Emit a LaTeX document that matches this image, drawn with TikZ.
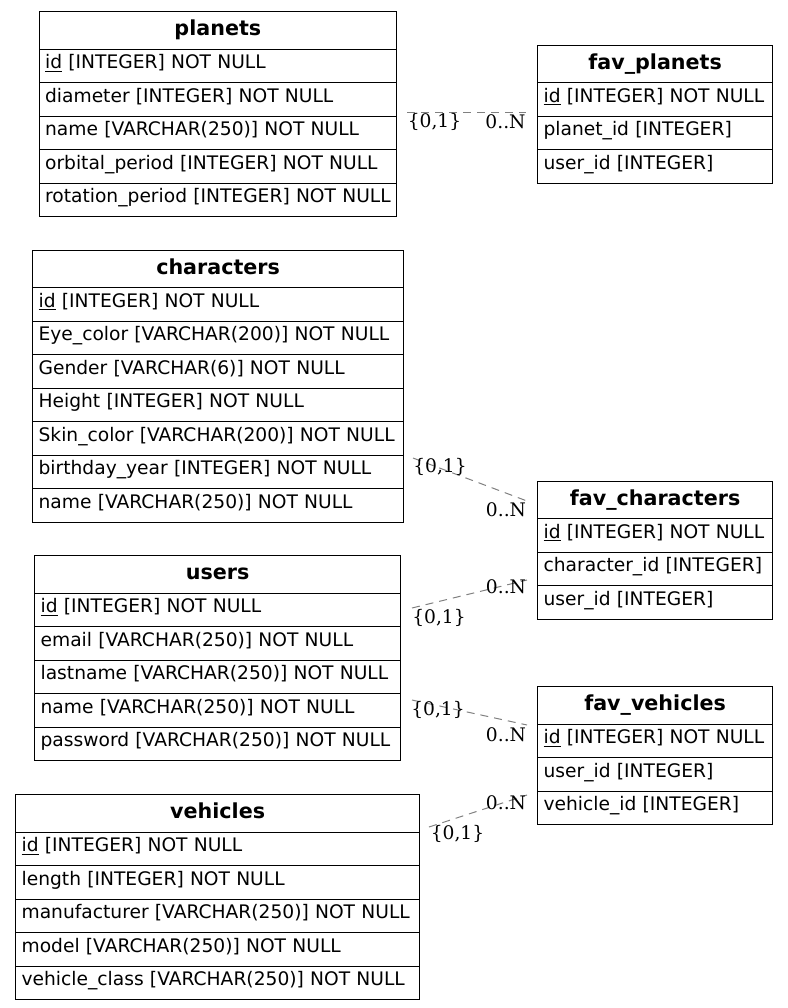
\documentclass[tikz,border=0pt]{standalone}
\usepackage{fontspec}
\setmainfont{DejaVu Sans}
\newfontfamily\lblfont{DejaVu Serif}
\definecolor{relgray}{HTML}{808080}
\begin{document}
\begin{tikzpicture}[x=0.75pt,y=-0.75pt,
  every node/.style={font=\fontsize{14pt}{16pt}\selectfont},
  hd/.style={draw, line width=0.9pt, anchor=north west, minimum width={#1*0.75pt}, minimum height=28.125pt, inner sep=0pt, text height=11pt, text depth=3.1pt, font=\fontsize{15.5pt}{18pt}\selectfont\bfseries},
  rw/.style={draw, line width=0.9pt, anchor=north west, text width={(#1-12)*0.75pt}, inner xsep=4.5pt, inner ysep=0pt, minimum height=25.125pt, align=left, text height=8pt, text depth=3.3pt},
  rel/.style={draw=relgray, line width=0.75pt, dash pattern=on 6pt off 4.5pt},
  card/.style={inner sep=0pt, font=\fontsize{14pt}{16pt}\selectfont\lblfont}]
\useasboundingbox (0,0) rectangle (788,1008);

% planets
\node[hd=357.5] (pl-h) at (38.5,11) {planets};
\node[rw=357.5] (pl-1) at (38.5,48.5) {\mbox{\underline{id} [INTEGER] NOT NULL}};
\node[rw=357.5] (pl-2) at (38.5,82) {\mbox{diameter [INTEGER] NOT NULL}};
\node[rw=357.5] (pl-3) at (38.5,115.5) {\mbox{name [VARCHAR(250)] NOT NULL}};
\node[rw=357.5] (pl-4) at (38.5,149) {\mbox{orbital\_period [INTEGER] NOT NULL}};
\node[rw=357.5] (pl-5) at (38.5,182.5) {\mbox{rotation\_period [INTEGER] NOT NULL}};

% fav_planets
\node[hd=235] (fp-h) at (537,44.5) {fav\_planets};
\node[rw=235] (fp-1) at (537,82) {\mbox{\underline{id} [INTEGER] NOT NULL}};
\node[rw=235] (fp-2) at (537,115.5) {\mbox{planet\_id [INTEGER]}};
\node[rw=235] (fp-3) at (537,149) {\mbox{user\_id [INTEGER]}};

% characters
\node[hd=371] (ch-h) at (32,249.5) {characters};
\node[rw=371] (ch-1) at (32,287) {\mbox{\underline{id} [INTEGER] NOT NULL}};
\node[rw=371] (ch-2) at (32,320.5) {\mbox{Eye\_color [VARCHAR(200)] NOT NULL}};
\node[rw=371] (ch-3) at (32,354) {\mbox{Gender [VARCHAR(6)] NOT NULL}};
\node[rw=371] (ch-4) at (32,387.5) {\mbox{Height [INTEGER] NOT NULL}};
\node[rw=371] (ch-5) at (32,421) {\mbox{Skin\_color [VARCHAR(200)] NOT NULL}};
\node[rw=371] (ch-6) at (32,454.5) {\mbox{birthday\_year [INTEGER] NOT NULL}};
\node[rw=371] (ch-7) at (32,488) {\mbox{name [VARCHAR(250)] NOT NULL}};

% fav_characters
\node[hd=235] (fc-h) at (537,480.5) {fav\_characters};
\node[rw=235] (fc-1) at (537,518) {\mbox{\underline{id} [INTEGER] NOT NULL}};
\node[rw=235] (fc-2) at (537,551.5) {\mbox{character\_id [INTEGER]}};
\node[rw=235] (fc-3) at (537,585) {\mbox{user\_id [INTEGER]}};

% users
\node[hd=366] (us-h) at (34,555) {users};
\node[rw=366] (us-1) at (34,592.5) {\mbox{\underline{id} [INTEGER] NOT NULL}};
\node[rw=366] (us-2) at (34,626) {\mbox{email [VARCHAR(250)] NOT NULL}};
\node[rw=366] (us-3) at (34,659.5) {\mbox{lastname [VARCHAR(250)] NOT NULL}};
\node[rw=366] (us-4) at (34,693) {\mbox{name [VARCHAR(250)] NOT NULL}};
\node[rw=366] (us-5) at (34,726.5) {\mbox{password [VARCHAR(250)] NOT NULL}};

% fav_vehicles
\node[hd=235] (fv-h) at (537,686) {fav\_vehicles};
\node[rw=235] (fv-1) at (537,723.5) {\mbox{\underline{id} [INTEGER] NOT NULL}};
\node[rw=235] (fv-2) at (537,757) {\mbox{user\_id [INTEGER]}};
\node[rw=235] (fv-3) at (537,790.5) {\mbox{vehicle\_id [INTEGER]}};

% vehicles
\node[hd=404] (ve-h) at (15,794) {vehicles};
\node[rw=404] (ve-1) at (15,831.5) {\mbox{\underline{id} [INTEGER] NOT NULL}};
\node[rw=404] (ve-2) at (15,865) {\mbox{length [INTEGER] NOT NULL}};
\node[rw=404] (ve-3) at (15,898.5) {\mbox{manufacturer [VARCHAR(250)] NOT NULL}};
\node[rw=404] (ve-4) at (15,932) {\mbox{model [VARCHAR(250)] NOT NULL}};
\node[rw=404] (ve-5) at (15,965.5) {\mbox{vehicle\_class [VARCHAR(250)] NOT NULL}};

% relation end points
\coordinate (r1a) at (407,112.5);
\coordinate (r1b) at (526,112.5);
\coordinate (r2a) at (413,458);
\coordinate (r2b) at (527,501);
\coordinate (r3a) at (412,608);
\coordinate (r3b) at (527,580);
\coordinate (r4a) at (412,700);
\coordinate (r4b) at (527,725);
\coordinate (r5a) at (429,827);
\coordinate (r5b) at (527,795);

\draw[rel] (r1a) -- (r1b);
\draw[rel] (r2a) -- (r2b);
\draw[rel] (r3a) -- (r3b);
\draw[rel] (r4a) -- (r4b);
\draw[rel] (r5a) -- (r5b);

% cardinalities
\node[card] (k1a) at (434.5,122) {\{0,1\}};
\node[card] (k1b) at (505.5,122) {0..N};
\node[card] (k2a) at (440,467) {\{0,1\}};
\node[card] (k2b) at (506,510) {0..N};
\node[card] (k3a) at (439,618) {\{0,1\}};
\node[card] (k3b) at (506,587) {0..N};
\node[card] (k4a) at (438,710) {\{0,1\}};
\node[card] (k4b) at (506,735) {0..N};
\node[card] (k5a) at (457.5,834) {\{0,1\}};
\node[card] (k5b) at (506,803) {0..N};
\end{tikzpicture}
\end{document}
